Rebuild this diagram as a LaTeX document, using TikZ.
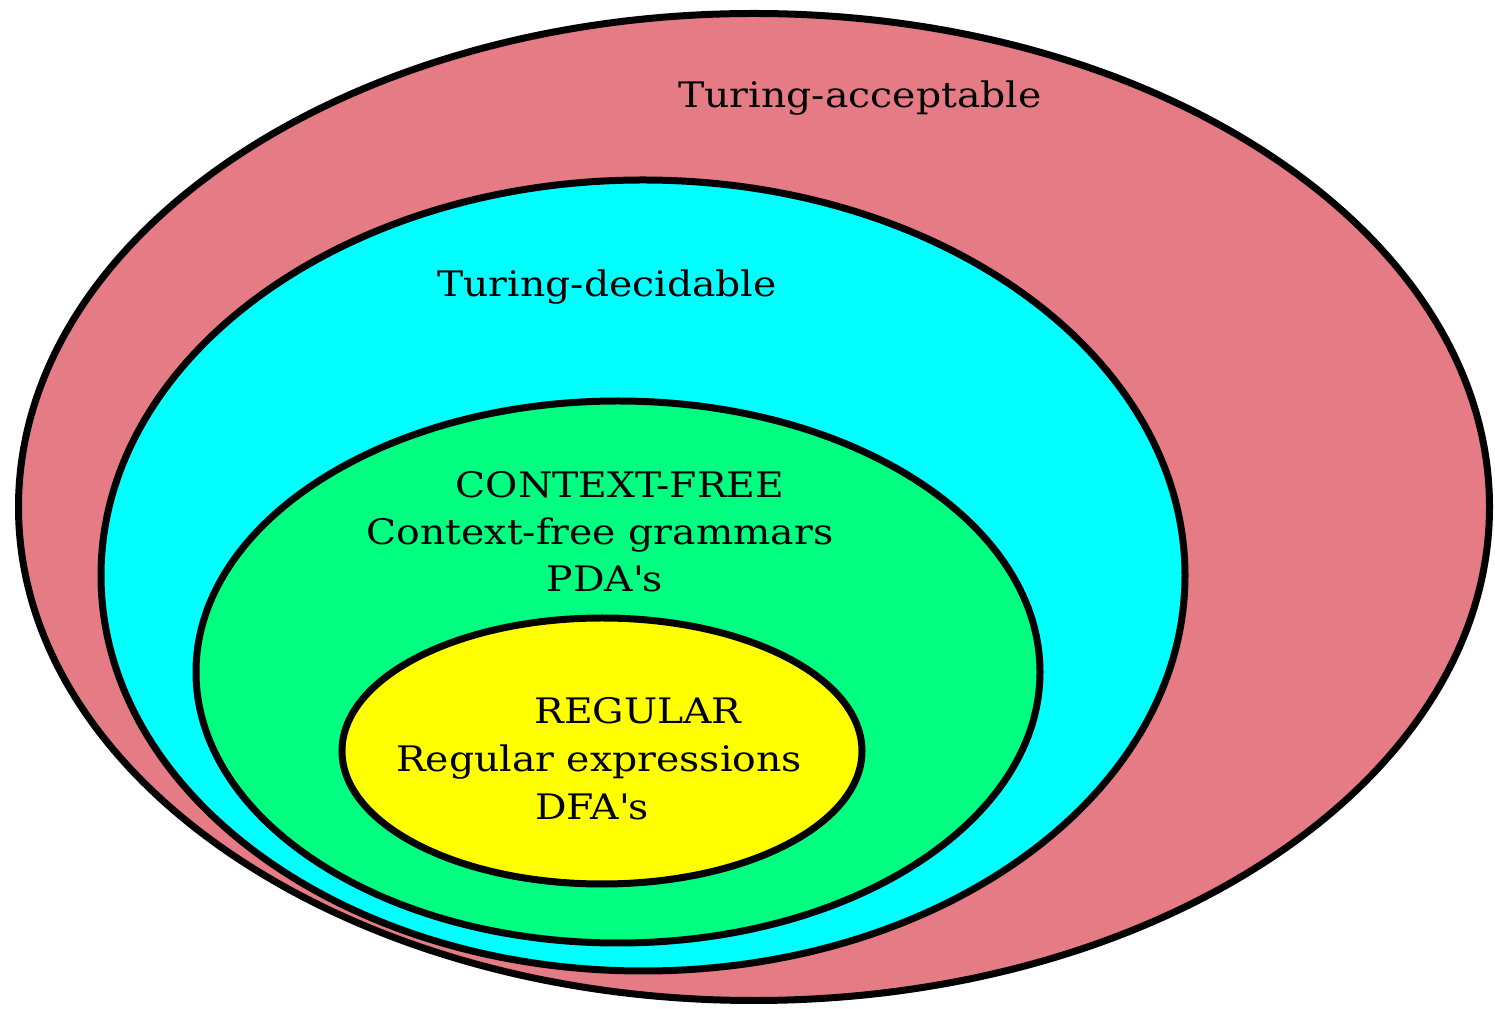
\documentclass[tikz,border=0pt]{standalone}
\usepackage{fontspec}
\setmainfont{DejaVu Serif}[FakeStretch=1.12]
\definecolor{rosefill}{RGB}{229,124,133}
\definecolor{cyanfill}{RGB}{0,255,255}
\definecolor{greenfill}{RGB}{0,255,128}
\definecolor{yellowfill}{RGB}{255,255,0}
\tikzset{
	ring/.style={draw=black, line width=0.14cm},
	lbl/.style={anchor=base, inner sep=0pt, font=\fontsize{20}{24}\selectfont}
}

\begin{document}
\begin{tikzpicture}[x=0.02cm, y=0.02cm]
		%%%%% START %%%%%
		\useasboundingbox (0, 0) rectangle (1495, 1008);
		
		\draw[ring, fill=rosefill] (754, 501) ellipse (735.5 and 493.5);
		\draw[ring, fill=cyanfill] (643, 432.5) ellipse (542 and 395.5);
		\draw[ring, fill=greenfill] (618, 336) ellipse (422 and 271);
		\draw[ring, fill=yellowfill] (602, 257) ellipse (260 and 133);
		
		\node[lbl] (tacc) at (860, 900) {Turing-acceptable};
		\node[lbl] (tdec) at (607, 711) {Turing-decidable};
		
		\node[lbl] (cfl) at (620, 510) {CONTEXT-FREE};
		\node[lbl] (cfg) at (600, 463) {Context-free grammars};
		\node[lbl] (pda) at (605, 416) {PDA\textquotesingle s};
		
		\node[lbl] (reg) at (638, 284) {REGULAR};
		\node[lbl] (rex) at (599, 236) {Regular expressions};
		\node[lbl] (dfa) at (592, 188) {DFA\textquotesingle s};
		%%%%% END %%%%%
\end{tikzpicture}
\end{document}
